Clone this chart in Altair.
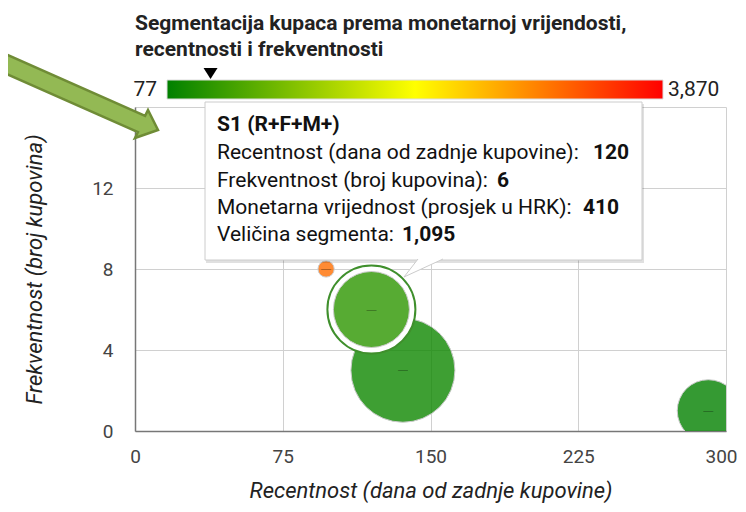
import altair as alt
import pandas as pd

# ---------------- data ----------------
segment = ["S1 (R+F+M+)", "S2", "S3", "S4"]
recency = [120, 136, 291, 97]          # x: days since last purchase
frequency = [6, 3, 1, 8]               # y: number of purchases
monetary = [410, 180, 90, 3050]        # color: average value in HRK
seg_size = [1095, 2050, 730, 50]       # bubble size: segment size

color_min = 77
color_max = 3870
color_stops = ["#008000", "#ffff00", "#ff0000"]

x_ticks = [0, 75, 150, 225, 300]
y_ticks = [0, 4, 8, 12, 16]

title_lines = ["Segmentacija kupaca prema monetarnoj vrijendosti,",
               "recentnosti i frekventnosti"]
x_title = "Recentnost (dana od zadnje kupovine)"
y_title = "Frekventnost (broj kupovina)"
tooltip_labels = ["Recentnost (dana od zadnje kupovine):",
                  "Frekventnost (broj kupovina):",
                  "Monetarna vrijednost (prosjek u HRK):",
                  "Veličina segmenta:"]
tooltip_fields = ["R", "F", "M", "N"]
hovered = "S1 (R+F+M+)"

df = pd.DataFrame({"seg": segment, "R": recency, "F": frequency,
                   "M": monetary, "N": seg_size})
s1 = df[df.seg == hovered].reset_index(drop=True)
one = pd.DataFrame({"k": [0]})
FONT = "Roboto"

# ---------------- scales ----------------
mid = (color_min + color_max) / 2
color_scale = alt.Scale(domain=[color_min, mid, color_max], range=color_stops,
                        interpolate="rgb")
size_scale = alt.Scale(domain=[0, 1000], range=[0, 5275])
x_scale = alt.Scale(domain=[0, 300], nice=False)
y_scale = alt.Scale(domain=[0, 16], nice=False)

x_axis = alt.Axis(values=x_ticks, title=x_title, grid=True, gridColor="#d0d0d0",
                  ticks=False, tickSize=0, labelPadding=16, labelFont=FONT,
                  labelFontSize=19, labelColor="#444444", domainColor="#777777",
                  domainWidth=1.5, titleFont=FONT, titleFontSize=22,
                  titleFontStyle="italic", titleFontWeight="normal",
                  titleColor="#222222", titlePadding=14, labelFlush=False,
                  labelOffset=alt.expr("datum.value == 300 ? -5 : 0"))
y_axis = alt.Axis(values=y_ticks, title=y_title, grid=True, gridColor="#d0d0d0",
                  ticks=False, tickSize=0, labelPadding=22, labelFont=FONT,
                  labelFontSize=19, labelColor="#444444", domainColor="#777777",
                  domainWidth=1.5, titleFont=FONT, titleFontSize=22,
                  titleFontStyle="italic", titleFontWeight="normal",
                  titleColor="#222222", titlePadding=45, labelFlush=False)

# ---------------- bubbles ----------------
bubbles = alt.Chart(df).mark_circle(clip=True, stroke="#cccccc", strokeWidth=1,
                                    fillOpacity=0.8, opacity=1).encode(
    x=alt.X("R:Q", scale=x_scale, axis=x_axis),
    y=alt.Y("F:Q", scale=y_scale, axis=y_axis),
    color=alt.Color("M:Q", scale=color_scale, legend=None),
    size=alt.Size("N:Q", scale=size_scale, legend=None),
    order=alt.Order("N:Q", sort="descending"),
)

ring = alt.Chart(s1).mark_circle(fill="white", stroke="#3f8f2c", strokeWidth=2,
                                 size=7744, opacity=1, fillOpacity=1).encode(
    x="R:Q", y="F:Q")

s1_bubble = alt.Chart(s1).mark_circle(stroke="#cccccc", strokeWidth=1,
                                      fillOpacity=0.8, opacity=1).encode(
    x="R:Q", y="F:Q",
    color=alt.Color("M:Q", scale=color_scale, legend=None),
    size=alt.Size("N:Q", scale=size_scale, legend=None),
)

dashes = alt.Chart(df).mark_text(text="—", fontSize=10, color="black",
                                 opacity=0.35, clip=True).encode(x="R:Q", y="F:Q")

# ---------------- tooltip ----------------
shadow = alt.Chart(one).mark_rect(fill="black", opacity=0.12).encode(
    x=alt.value(71), x2=alt.value(509), y=alt.value(-3), y2=alt.value(156))
box = alt.Chart(one).mark_rect(fill="white", stroke="#cccccc", strokeWidth=1).encode(
    x=alt.value(70), x2=alt.value(507), y=alt.value(-5), y2=alt.value(153))
tail = alt.Chart(one).mark_point(shape="M14,-18L0,0L39,-18", size=4, filled=True,
                                 fill="white", stroke="#cccccc", strokeWidth=1,
                                 opacity=1).encode(x=alt.value(269), y=alt.value(170))

TIP_FS = 21
tip_head = alt.Chart(s1).mark_text(align="left", baseline="middle", font=FONT,
                                   fontSize=TIP_FS, fontWeight="bold", color="#111111").encode(
    x=alt.value(82), y=alt.value(18), text="seg:N")

line_y = [46, 74, 101, 128]
value_x = [458, 362, 448, 267]
tip_layers = [shadow, box, tail, tip_head]
for lab, fld, yy, vx in zip(tooltip_labels, tooltip_fields, line_y, value_x):
    ldf = pd.DataFrame({"t": [lab]})
    tip_layers.append(alt.Chart(ldf).mark_text(
        align="left", baseline="middle", font=FONT, fontSize=TIP_FS,
        color="#111111").encode(x=alt.value(82), y=alt.value(yy), text="t:N"))
    tip_layers.append(alt.Chart(s1).mark_text(
        align="left", baseline="middle", font=FONT, fontSize=TIP_FS,
        fontWeight="bold", color="#111111").encode(
        x=alt.value(vx), y=alt.value(yy), text=alt.Text(f"{fld}:Q", format=",")))

# ---------------- title ----------------
title_layers = []
for line, yy in zip(title_lines, [-77, -51]):
    tdf = pd.DataFrame({"t": [line]})
    title_layers.append(alt.Chart(tdf).mark_text(
        align="left", baseline="alphabetic", font=FONT, fontSize=21,
        fontWeight="bold", color="#222222").encode(
        x=alt.value(0), y=alt.value(yy), text="t:N"))

# ---------------- arrow annotation ----------------
arrow_path = ("M-164.4,-81.3L-12.9,-14.2L-10,-20L0,0L-23,8L-20.1,2.2L-171.6,-64.9Z")
arrow = alt.Chart(one).mark_point(shape=arrow_path, size=4, filled=True,
                                  fill="#93b954", stroke="#6f8c36", strokeWidth=2.5,
                                  opacity=1).encode(x=alt.value(23), y=alt.value(23))

main = alt.layer(bubbles, ring, s1_bubble, dashes, *tip_layers, *title_layers, arrow)

# ---------------- colour bar ----------------
cb_df = pd.DataFrame({"lo": [color_min], "hi": [color_max]})
cb_x = alt.Scale(domain=[color_min, color_max], range=[32, 528])
gradient = alt.LinearGradient(
    gradient="linear", x1=0, x2=1, y1=0, y2=0,
    stops=[alt.GradientStop(color=color_stops[0], offset=0),
           alt.GradientStop(color=color_stops[1], offset=0.5),
           alt.GradientStop(color=color_stops[2], offset=1)])
bar = alt.Chart(cb_df).mark_rect(fill=gradient, stroke="#dddddd", strokeWidth=1).encode(
    x=alt.X("lo:Q", scale=cb_x, axis=None), x2="hi:Q",
    y=alt.value(-27), y2=alt.value(-8))
lab_lo = alt.Chart(cb_df).mark_text(align="right", baseline="middle", dx=-10,
                                    font=FONT, fontSize=21, color="#222222").encode(
    x=alt.X("lo:Q", scale=cb_x, axis=None), y=alt.value(-17),
    text=alt.Text("lo:Q", format=","))
lab_hi = alt.Chart(cb_df).mark_text(align="left", baseline="middle", dx=5,
                                    font=FONT, fontSize=21, color="#222222").encode(
    x=alt.X("hi:Q", scale=cb_x, axis=None), y=alt.value(-17),
    text=alt.Text("hi:Q", format=","))
marker = alt.Chart(s1).mark_point(shape="M-7,-5.5L7,-5.5L0,5.5Z", size=4, filled=True,
                                  fill="black", strokeWidth=0, opacity=1).encode(
    x=alt.X("M:Q", scale=cb_x, axis=None), y=alt.value(-33.5))
cbar = alt.layer(bar, lab_lo, lab_hi, marker)

chart = alt.layer(main, cbar).resolve_scale(x="independent").properties(
    width=591, height=324,
    autosize=alt.AutoSizeParams(type="none"),
    padding={"left": 127, "top": 99, "right": 12, "bottom": 73},
).configure_view(stroke=None)

chart.save("out.html", embed_options={"renderer": "svg", "actions": False})
